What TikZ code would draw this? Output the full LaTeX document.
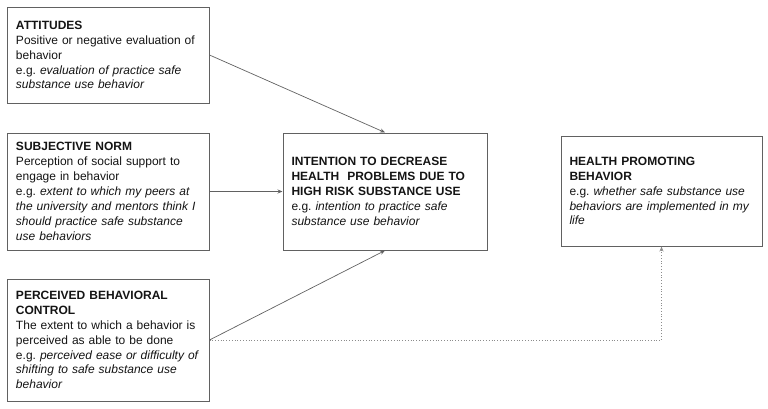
\documentclass[tikz,border=0pt]{standalone}
\usepackage{fontspec}
\setmainfont{Liberation Sans}
\usetikzlibrary{arrows.meta}
\tikzset{
  box/.style={draw=black!62, line width=1bp, rectangle, inner xsep=8.5bp, inner ysep=0bp,
    align=left, text=black!92, font=\fontsize{12bp}{14.9bp}\selectfont, anchor=center},
  link/.style={draw=black!62, line width=0.7bp, -{Stealth[length=5bp,width=4bp]}},
  dotlink/.style={draw=black!45, line width=0.8bp, dotted, -{Stealth[length=5bp,width=4bp]}}
}
\begin{document}
\begin{tikzpicture}[x=1bp,y=-1bp]
\useasboundingbox (0,0) rectangle (768,408);
\node[box, text width=184.5bp, minimum width=201.5bp, minimum height=96bp] (att) at (108.25,55)
 {\mbox{\textbf{ATTITUDES}}\\
  \mbox{Positive or negative evaluation of}\\
  \mbox{behavior}\\
  \mbox{e.g.\ \textit{evaluation of practice safe}}\\
  \mbox{\textit{substance use behavior}}};
\node[box, text width=184.5bp, minimum width=201.5bp, minimum height=117bp] (norm) at (108.25,191.5)
 {\mbox{\textbf{SUBJECTIVE NORM}}\\
  \mbox{Perception of social support to}\\
  \mbox{engage in behavior}\\
  \mbox{e.g.\ \textit{extent to which my peers at}}\\
  \mbox{\textit{the university and mentors think I}}\\
  \mbox{\textit{should practice safe substance}}\\
  \mbox{\textit{use behaviors}}};
\node[box, text width=184.5bp, minimum width=201.5bp, minimum height=122bp] (pbc) at (108.25,340)
 {\mbox{\textbf{PERCEIVED BEHAVIORAL}}\\
  \mbox{\textbf{CONTROL}}\\
  \mbox{The extent to which a behavior is}\\
  \mbox{perceived as able to be done}\\
  \mbox{e.g.\ \textit{perceived ease or difficulty of}}\\
  \mbox{\textit{shifting to safe substance use}}\\
  \mbox{\textit{behavior}}};
\node[box, text width=187bp, minimum width=204bp, minimum height=117bp] (int) at (385,191.5)
 {\mbox{\textbf{INTENTION TO DECREASE}}\\
  \mbox{\textbf{HEALTH\ \ PROBLEMS DUE TO}}\\
  \mbox{\textbf{HIGH RISK SUBSTANCE USE}}\\
  \mbox{e.g.\ \textit{intention to practice safe}}\\
  \mbox{\textit{substance use behavior}}};
\node[box, text width=184bp, minimum width=201bp, minimum height=110bp] (hpb) at (661.5,191)
 {\mbox{\textbf{HEALTH PROMOTING}}\\
  \mbox{\textbf{BEHAVIOR}}\\
  \mbox{e.g.\ \textit{whether safe substance use}}\\
  \mbox{\textit{behaviors are implemented in my}}\\
  \mbox{\textit{life}}};
\draw[link] (att.east) -- (int.north);
\draw[link] (norm.east) -- (int.west);
\draw[link] (pbc.east) -- (int.south);
\draw[dotlink] (pbc.east) -| (hpb.south);
\end{tikzpicture}
\end{document}
